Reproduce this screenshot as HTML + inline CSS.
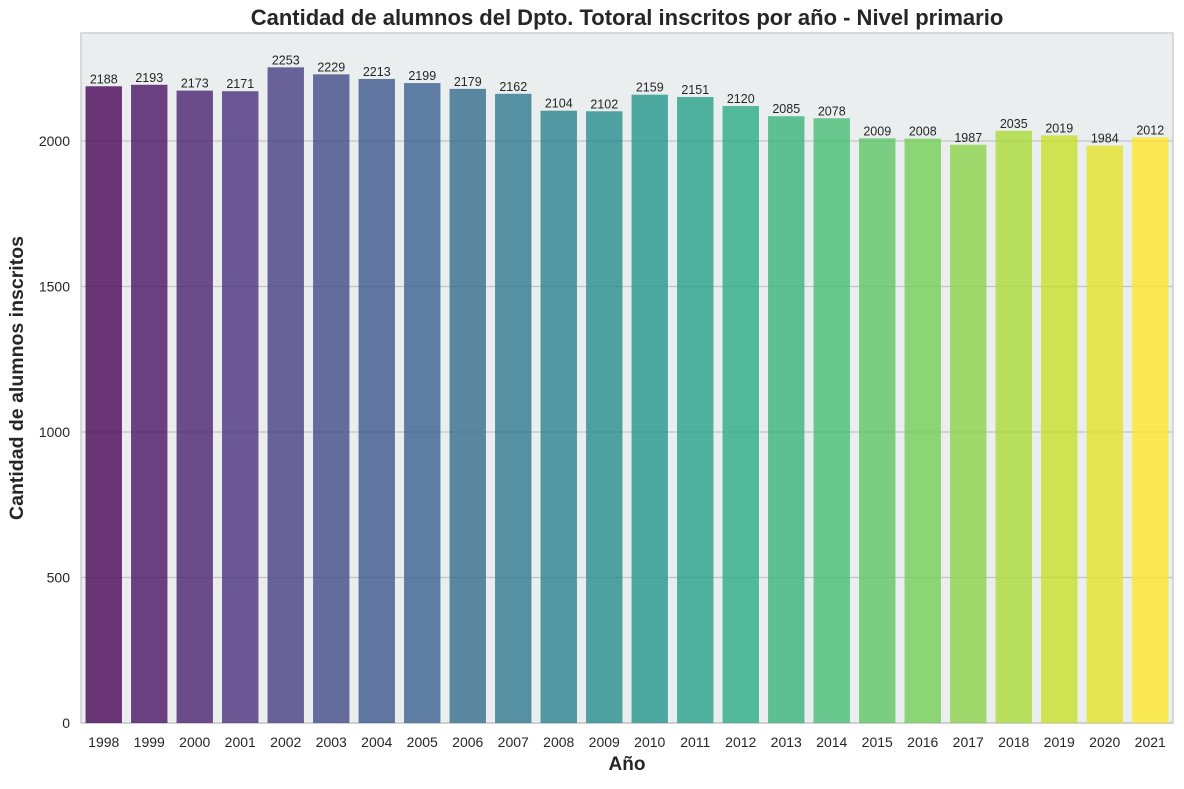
<!DOCTYPE html>
<html><head><meta charset="utf-8"><style>
body{margin:0;background:#fff;font-family:"Liberation Sans",Arial,sans-serif;}
svg text{font-family:"Liberation Sans",Arial,sans-serif;}
</style></head><body>
<svg id="chart" width="1184" height="784" xmlns="http://www.w3.org/2000/svg">
<text x="627" y="25" text-anchor="middle" font-size="22" font-weight="bold" fill="#262626">Cantidad de alumnos del Dpto. Totoral inscritos por año - Nivel primario</text>
<rect x="81" y="33" width="1092" height="690" fill="#eaeeee" stroke="#cfcfcf" stroke-width="1.5"/>
<g id="grid"></g><g id="bars"></g><g id="labels"></g>
<text x="627" y="770" text-anchor="middle" font-size="19" font-weight="bold" fill="#262626">Año</text>
<text transform="translate(23,378) rotate(-90)" text-anchor="middle" font-size="19.5" font-weight="bold" fill="#262626">Cantidad de alumnos inscritos</text>
</svg>
<script>
const years=["1998","1999","2000","2001","2002","2003","2004","2005","2006","2007","2008","2009","2010","2011","2012","2013","2014","2015","2016","2017","2018","2019","2020","2021"];
const students=[2188,2193,2173,2171,2253,2229,2213,2199,2179,2162,2104,2102,2159,2151,2120,2085,2078,2009,2008,1987,2035,2019,1984,2012];
const yTicks=[0,500,1000,1500,2000];
const NS="http://www.w3.org/2000/svg";
const L=81,R=1173,T=33,B=723,YMAX=2371;
const y=v=>B-(v/YMAX)*(B-T);
const step=(R-L)/years.length;
const x=i=>L+step*i;
const vir=[[68,1,84],[72,35,116],[64,67,135],[52,94,141],[41,120,142],[32,144,140],[34,167,132],[68,190,112],[121,209,81],[189,222,38],[253,231,37]];
function color(t){const p=t*(vir.length-1),i=Math.min(Math.floor(p),vir.length-2),f=p-i;const c=vir[i].map((a,k)=>Math.round(a+(vir[i+1][k]-a)*f));return `rgb(${c})`;}
const g=document.getElementById('grid'),bs=document.getElementById('bars'),lb=document.getElementById('labels');
yTicks.forEach(v=>{
 const ln=document.createElementNS(NS,'line');
 
 
 ln.setAttribute('x1',L);ln.setAttribute('x2',R);ln.setAttribute('y1',y(v));ln.setAttribute('y2',y(v));
 ln.setAttribute('stroke','#c4c4c4');ln.setAttribute('stroke-width','1.2');g.appendChild(ln);
 const t=document.createElementNS(NS,'text');
 
 
 t.setAttribute('x',L-11);t.setAttribute('y',y(v)+5);t.setAttribute('text-anchor','end');t.setAttribute('font-size','14');t.setAttribute('fill','#262626');
 t.textContent=v;lb.appendChild(t);
});
years.forEach((yr,i)=>{
 const w=step*0.8,bx=x(i)+step*0.1,v=students[i];
 const r=document.createElementNS(NS,'rect');
 
 
 r.setAttribute('x',bx);r.setAttribute('y',y(v));r.setAttribute('width',w);r.setAttribute('height',B-y(v));
 r.setAttribute('fill',color(i/(years.length-1)));r.setAttribute('fill-opacity','0.78');bs.appendChild(r);
 const vl=document.createElementNS(NS,'text');
 
 
 vl.setAttribute('x',x(i)+step/2);vl.setAttribute('y',y(v)-3);vl.setAttribute('text-anchor','middle');vl.setAttribute('font-size','12.5');vl.setAttribute('fill','#262626');
 vl.textContent=v;lb.appendChild(vl);
 const xt=document.createElementNS(NS,'text');
 
 
 xt.setAttribute('x',x(i)+step/2);xt.setAttribute('y',B+24);xt.setAttribute('text-anchor','middle');xt.setAttribute('font-size','14');xt.setAttribute('fill','#262626');
 xt.textContent=yr;lb.appendChild(xt);
});
</script>
</body></html>
